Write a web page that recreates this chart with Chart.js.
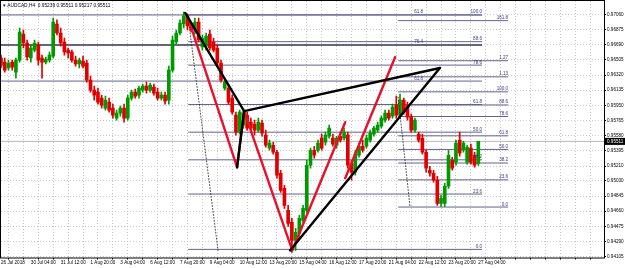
<!DOCTYPE html>
<html>
<head>
<meta charset="utf-8">
<script src="https://cdn.jsdelivr.net/npm/chart.js@4.4.1/dist/chart.umd.min.js"></script>
<style>
  html, body { margin: 0; padding: 0; background: #fff; }
  #chart { display: block; }
</style>
</head>
<body>
<canvas id="chart" width="625" height="268"></canvas>
<script>
// AUDCAD H4 candles, index 0 = 26 Jul 20:00
const opens = [0.96527,0.96478,0.96405,0.96478,0.96356,0.96502,0.96820,0.96710,0.96527,0.96624,
  0.96686,0.96527,0.96478,0.96502,0.96551,0.96942,0.96832,0.96722,0.96624,0.96600,
  0.96502,0.96454,0.96490,0.96466,0.96258,0.96136,0.96111,0.96038,0.95916,0.95989,
  0.95916,0.95794,0.95855,0.95916,0.95794,0.96038,0.96111,0.96075,0.96136,0.96185,
  0.96136,0.96173,0.96111,0.96038,0.96075,0.96014,0.96380,0.96722,0.96832,0.96942,
  0.97040,0.96918,0.96869,0.96966,0.96661,0.96673,0.96820,0.96722,0.96649,0.96466,
  0.96160,0.96160,0.96038,0.95831,0.95623,0.95709,0.95831,0.95745,0.95721,0.95648,
  0.95733,0.95587,0.95428,0.95464,0.95379,0.95123,0.94939,0.94671,0.94524,0.94304,
  0.94390,0.94549,0.94671,0.95220,0.95403,0.95403,0.95550,0.95501,0.95574,0.95550,
  0.95464,0.95574,0.95550,0.95587,0.95244,0.95135,0.95342,0.95452,0.95452,0.95526,
  0.95599,0.95648,0.95696,0.95770,0.95855,0.95818,0.95953,0.95831,0.96014,0.95941,
  0.95806,0.95648,0.95599,0.95550,0.95379,0.95159,0.95123,0.95037,0.94756,0.94756,
  0.94964,0.95281,0.95257,0.95526,0.95403,0.95257,0.95428,0.95342,0.95239];
const highs = [0.96563,0.96527,0.96502,0.96502,0.96527,0.96893,0.96869,0.96747,0.96686,0.96747,
  0.96722,0.96563,0.96539,0.96600,0.97015,0.96991,0.96893,0.96771,0.96649,0.96624,
  0.96551,0.96527,0.96551,0.96502,0.96307,0.96185,0.96160,0.96075,0.96062,0.96038,
  0.95965,0.95892,0.95941,0.95965,0.96075,0.96136,0.96148,0.96185,0.96209,0.96234,
  0.96222,0.96209,0.96160,0.96111,0.96111,0.96429,0.96795,0.96869,0.96991,0.97088,
  0.97064,0.96966,0.97015,0.97015,0.96808,0.96832,0.96869,0.96771,0.96686,0.96502,
  0.96283,0.96197,0.96075,0.95867,0.95892,0.95892,0.95867,0.95794,0.95770,0.95794,
  0.95770,0.95648,0.95526,0.95501,0.95403,0.95159,0.94976,0.94732,0.94573,0.94451,
  0.94610,0.94732,0.95281,0.95428,0.95452,0.95526,0.95599,0.95623,0.95709,0.95599,
  0.95574,0.95623,0.95672,0.95623,0.95281,0.95403,0.95489,0.95526,0.95587,0.95648,
  0.95696,0.95745,0.95818,0.95892,0.95892,0.95965,0.96062,0.96087,0.96038,0.95989,
  0.95843,0.95794,0.95623,0.95599,0.95403,0.95208,0.95159,0.95086,0.94854,0.95000,
  0.95403,0.95318,0.95526,0.95623,0.95513,0.95464,0.95477,0.95379,0.95511];
const lows = [0.96405,0.96356,0.96380,0.96380,0.96283,0.96478,0.96649,0.96502,0.96478,0.96600,
  0.96441,0.96283,0.96454,0.96478,0.96527,0.96808,0.96673,0.96563,0.96527,0.96478,
  0.96429,0.96405,0.96405,0.96234,0.96111,0.96014,0.95965,0.95916,0.95892,0.95867,
  0.95794,0.95770,0.95818,0.95745,0.95770,0.96014,0.96038,0.96038,0.96111,0.96099,
  0.96111,0.96075,0.96014,0.96014,0.95965,0.95965,0.96356,0.96698,0.96808,0.96893,
  0.96869,0.96844,0.96820,0.96722,0.96624,0.96624,0.96624,0.96600,0.96441,0.96234,
  0.96136,0.95965,0.95843,0.95587,0.95599,0.95672,0.95648,0.95623,0.95587,0.95623,
  0.95574,0.95440,0.95403,0.95355,0.95062,0.94890,0.94695,0.94475,0.94157,0.94182,
  0.94353,0.94524,0.94646,0.95184,0.95306,0.95379,0.95403,0.95464,0.95550,0.95452,
  0.95428,0.95501,0.95526,0.95184,0.95037,0.95098,0.95318,0.95379,0.95428,0.95501,
  0.95574,0.95623,0.95672,0.95745,0.95770,0.95794,0.95794,0.95806,0.95843,0.95770,
  0.95623,0.95623,0.95501,0.95355,0.95135,0.95086,0.95013,0.94732,0.94720,0.94720,
  0.94939,0.95159,0.95220,0.95330,0.95379,0.95232,0.95232,0.95196,0.95217];
const closes = [0.96441,0.96380,0.96466,0.96417,0.96502,0.96844,0.96710,0.96539,0.96649,0.96710,
  0.96502,0.96478,0.96515,0.96563,0.96966,0.96832,0.96710,0.96600,0.96588,0.96502,
  0.96454,0.96502,0.96429,0.96258,0.96136,0.96075,0.95989,0.95953,0.96014,0.95892,
  0.95831,0.95855,0.95916,0.95794,0.96038,0.96111,0.96062,0.96160,0.96185,0.96136,
  0.96197,0.96099,0.96038,0.96075,0.96002,0.96380,0.96747,0.96832,0.96954,0.97040,
  0.96918,0.96869,0.96966,0.96747,0.96771,0.96795,0.96649,0.96624,0.96466,0.96258,
  0.96234,0.95989,0.95867,0.95623,0.95867,0.95855,0.95672,0.95672,0.95648,0.95745,
  0.95611,0.95464,0.95489,0.95379,0.95098,0.94915,0.94732,0.94512,0.94304,0.94402,
  0.94573,0.94695,0.95220,0.95403,0.95342,0.95489,0.95428,0.95587,0.95672,0.95477,
  0.95550,0.95526,0.95623,0.95220,0.95135,0.95355,0.95452,0.95403,0.95550,0.95611,
  0.95672,0.95709,0.95794,0.95855,0.95794,0.95928,0.95831,0.96014,0.95867,0.95806,
  0.95648,0.95770,0.95526,0.95379,0.95184,0.95123,0.95037,0.94756,0.94817,0.94964,
  0.95342,0.95184,0.95489,0.95367,0.95489,0.95440,0.95257,0.95220,0.95511];

// time axis: a label every 8 bars, grid every 4
const xLabelIdx = [0,8,16,24,32,40,48,56,64,72,80,88,96,104,112,120,128];
const xLabelText = ['26 Jul 2018','30 Jul 04:00','31 Jul 12:00','1 Aug 20:00','3 Aug 04:00',
  '6 Aug 12:00','7 Aug 20:00','9 Aug 04:00','10 Aug 12:00','13 Aug 20:00','15 Aug 04:00',
  '16 Aug 12:00','17 Aug 20:00','21 Aug 04:00','22 Aug 12:00','23 Aug 20:00','27 Aug 04:00'];
const priceTicks = [0.97060,0.96875,0.96690,0.96505,0.96320,0.96135,0.95950,0.95765,0.95580,
  0.95395,0.95210,0.95030,0.94845,0.94660,0.94475,0.94290,0.94105];
const lastPrice = 0.95511;

// fibo retracement X high -> C low
const fibALevels = [0, 23.6, 38.2, 50, 61.8, 78.6, 88.6, 100];
const fibALabels = ['0.0','23.6','38.2','50.0','61.8','78.6','88.6','100.0'];
const fibAZero = 0.94195, fibAHundred = 0.97052, fibASpan = [50.2, 129.0];
// fibo of D high -> last low, with extensions
const fibBLevels = [0, 23.6, 38.2, 50, 61.8, 78.6, 88.6, 100, 113, 127, 161.8];
const fibBLabels = ['0.0','23.6','38.2','50.0','61.8','78.6','88.6','100.0','1.13','1.27','161.8'];
const fibBZero = 0.94711, fibBHundred = 0.96115, fibBSpan = [106.5, 136.0];
// long levels running in from the left
const fibCPrices = [0.97052, 0.96686, 0.96246];
const fibCLabels = ['61.8', '76.4', '61.8'];
const fibCSpan = [0, 129.0], fibCLabelAt = 113.2;

// pattern drawn on the chart: [barIndex, price]
const blackLegs = [
  [[49.4, 0.97076], [65.2, 0.95880]],
  [[65.2, 0.95880], [63.3, 0.95196]],
  [[65.2, 0.95880], [117.7, 0.96405]],
  [[77.5, 0.94182], [117.7, 0.96405]]
];
const redLegs = [
  [[49.9, 0.97052], [63.3, 0.95196]],
  [[63.3, 0.95196], [65.2, 0.95880]],
  [[65.2, 0.95880], [78.1, 0.94182]],
  [[78.1, 0.94182], [92.3, 0.95745]],
  [[92.3, 0.95062], [105.7, 0.96539]]
];
const dottedLegs = [
  [[50.2, 0.97015], [58.2, 0.94182]],
  [[106.5, 0.96051], [109.7, 0.94707]]
];

const UP = '#009a00', DOWN = '#e00000';
const FIB = '#62628f';
const GRID = '#c6c6c6';
const tinyFont = { family: 'Liberation Sans', size: 4.6 };

const candleColors = closes.map((c, i) => c >= opens[i] ? UP : DOWN);
const datasets = [];

datasets.push({
  type: 'bar', order: 4, grouped: false, barThickness: 1,
  data: closes.map((c, i) => ({ x: i, y: [lows[i], highs[i]] })),
  backgroundColor: candleColors
});
datasets.push({
  type: 'bar', order: 3, grouped: false, barThickness: 3, minBarLength: 1,
  data: closes.map((c, i) => ({ x: i, y: [opens[i], c] })),
  backgroundColor: candleColors
});

const fibTexts = [];
function addLevel(p, span, color, width) {
  datasets.push({
    type: 'line', order: 6, data: [{ x: span[0], y: p }, { x: span[1], y: p }],
    borderColor: color, borderWidth: width, pointRadius: 0
  });
}
fibALevels.forEach((lv, k) => {
  const p = fibAZero + (fibAHundred - fibAZero) * lv / 100;
  addLevel(p, fibASpan, FIB, 1);
  fibTexts.push({ x: fibASpan[1], p, t: fibALabels[k] });
});
fibBLevels.forEach((lv, k) => {
  const p = fibBZero + (fibBHundred - fibBZero) * lv / 100;
  addLevel(p, fibBSpan, FIB, 1);
  fibTexts.push({ x: fibBSpan[1], p, t: fibBLabels[k] });
});
fibCPrices.forEach((p, k) => {
  addLevel(p, fibCSpan, k === 1 ? '#34345a' : FIB, k === 1 ? 1.4 : 1);
  fibTexts.push({ x: fibCLabelAt, p, t: fibCLabels[k] });
});
addLevel(lastPrice, [0, 161.7], '#b8b8b8', 1);

function addLegs(legs, color, width, dash, order) {
  legs.forEach(leg => datasets.push({
    type: 'line', order, data: leg.map(pt => ({ x: pt[0], y: pt[1] })),
    borderColor: color, borderWidth: width, borderDash: dash, pointRadius: 0,
    borderCapStyle: 'round'
  }));
}
addLegs(dottedLegs, '#202020', 0.8, [1, 2], 2);
addLegs(redLegs, '#e8102a', 2.4, [], 1);
addLegs(blackLegs, '#000000', 2.4, [], 0);

const overlay = {
  id: 'overlay',
  afterDatasetsDraw(chart) {
    const { ctx, chartArea: a, scales: { x, y } } = chart;
    ctx.save();
    ctx.font = '4.6px "Liberation Sans"';
    ctx.fillStyle = '#3c3c7a';
    ctx.textAlign = 'right';
    ctx.textBaseline = 'bottom';
    fibTexts.forEach(f => ctx.fillText(f.t, x.getPixelForValue(f.x), y.getPixelForValue(f.p) - 0.5));
    // header
    ctx.fillStyle = '#000';
    ctx.textAlign = 'left';
    ctx.textBaseline = 'middle';
    ctx.font = '4.8px "Liberation Sans"';
    ctx.fillText('\u25BE AUDCAD,H4  0.95239 0.95511 0.95217 0.95511', 3, 6);
    // frame
    ctx.strokeStyle = '#000';
    ctx.lineWidth = 1;
    ctx.strokeRect(a.left - 0.5, a.top - 0.5, a.right - a.left + 1, a.bottom - a.top + 1);
    // last price tag
    const py = y.getPixelForValue(lastPrice);
    ctx.fillStyle = '#000';
    ctx.fillRect(a.right + 1, py - 3.5, 20, 7);
    ctx.fillStyle = '#fff';
    ctx.font = '4.6px "Liberation Sans"';
    ctx.fillText(lastPrice.toFixed(5), a.right + 3, py);
    ctx.restore();
  }
};

new Chart(document.getElementById('chart'), {
  type: 'bar',
  data: { datasets },
  options: {
    responsive: false,
    animation: false,
    devicePixelRatio: 1,
    layout: { padding: { left: 1, top: 1, right: 0, bottom: 0 } },
    plugins: { legend: { display: false }, tooltip: { enabled: false } },
    scales: {
      x: {
        type: 'linear', min: 0, max: 161.7, offset: false,
        afterBuildTicks(s) {
          const t = [];
          for (let v = 0; v <= 160; v += 4) t.push({ value: v });
          s.ticks = t;
        },
        afterFit(s) { s.height = 10.5; s.paddingLeft = 0; s.paddingRight = 0; },
        grid: { color: GRID, tickLength: 2, tickColor: '#000' },
        border: { display: false, dash: [1, 2] },
        ticks: {
          autoSkip: false, maxRotation: 0, align: 'start', padding: 0,
          font: tinyFont, color: '#000',
          callback(v) { const k = xLabelIdx.indexOf(v); return k >= 0 ? xLabelText[k] : ''; }
        }
      },
      y: {
        position: 'right', min: 0.94096, max: 0.97222,
        afterBuildTicks(s) { s.ticks = priceTicks.map(v => ({ value: v })); },
        afterFit(s) { s.width = 21; s.paddingTop = 0; s.paddingBottom = 0; },
        grid: { color: GRID, tickLength: 2, tickColor: '#000' },
        border: { display: false, dash: [1, 2] },
        ticks: {
          padding: 1, font: tinyFont, color: '#000',
          callback(v) { return v.toFixed(5); }
        }
      }
    }
  },
  plugins: [overlay]
});
</script>
</body>
</html>
